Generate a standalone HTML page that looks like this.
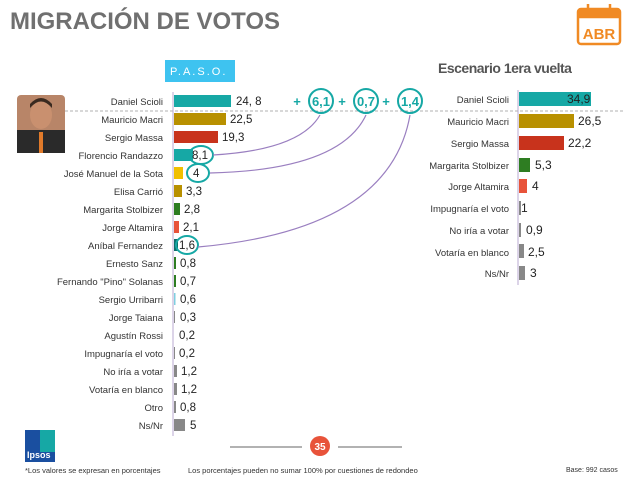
<!DOCTYPE html>
<html><head><meta charset="utf-8"><style>
body{margin:0;width:640px;height:479px;background:#fff;overflow:hidden;font-family:"Liberation Sans",sans-serif;}
</style></head><body>
<svg width="640" height="479" xmlns="http://www.w3.org/2000/svg" font-family="Liberation Sans, sans-serif">
<text x="10" y="29" font-size="24" font-weight="bold" fill="#707070" textLength="270" lengthAdjust="spacingAndGlyphs">MIGRACIÓN DE VOTOS</text>
<g fill="none" stroke="#f08a24" stroke-width="2.5">
<rect x="578" y="9" width="42" height="35" rx="3"/>
<line x1="578" y1="17" x2="620" y2="17"/>
<line x1="588" y1="4" x2="588" y2="12"/><line x1="610" y1="4" x2="610" y2="12"/>
</g>
<rect x="578" y="9" width="42" height="8" fill="#f08a24"/>
<text x="599" y="39" font-size="15" font-weight="bold" fill="#f08a24" text-anchor="middle">ABR</text>
<rect x="165" y="60" width="70" height="22" fill="#3ec3f0"/>
<text x="170" y="75" font-size="11" fill="#fff" letter-spacing="2">P.A.S.O.</text>
<rect x="17" y="95" width="48" height="58" rx="4" fill="#b88568"/>
<rect x="17" y="130" width="48" height="23" fill="#2a2a2a"/>
<ellipse cx="41" cy="115" rx="11" ry="14" fill="#c9906f"/>
<path d="M30 108 Q41 95 52 108 L52 104 Q41 92 30 104Z" fill="#3a2a20"/>
<rect x="39" y="132" width="4" height="21" fill="#e07a2a"/>
<line x1="65" y1="111" x2="625" y2="111" stroke="#999" stroke-dasharray="3,2" stroke-width="0.8"/>
<line x1="173" y1="92" x2="173" y2="436" stroke="#b8a8d0" stroke-width="1"/>
<g font-size="9.5" fill="#333" text-anchor="end">
<text x="163" y="105">Daniel Scioli</text>
<text x="163" y="123">Mauricio Macri</text>
<text x="163" y="141">Sergio Massa</text>
<text x="163" y="159">Florencio Randazzo</text>
<text x="163" y="177">José Manuel de la Sota</text>
<text x="163" y="195">Elisa Carrió</text>
<text x="163" y="213">Margarita Stolbizer</text>
<text x="163" y="231">Jorge Altamira</text>
<text x="163" y="249">Aníbal Fernandez</text>
<text x="163" y="267">Ernesto Sanz</text>
<text x="163" y="285">Fernando "Pino" Solanas</text>
<text x="163" y="303">Sergio Urribarri</text>
<text x="163" y="321">Jorge Taiana</text>
<text x="163" y="339">Agustín Rossi</text>
<text x="163" y="357">Impugnaría el voto</text>
<text x="163" y="375">No iría a votar</text>
<text x="163" y="393">Votaría en blanco</text>
<text x="163" y="411">Otro</text>
<text x="163" y="429">Ns/Nr</text>
</g>
<g>
<rect x="174" y="95" width="57" height="12" fill="#16a8a5"/>
<rect x="174" y="113" width="52" height="12" fill="#b89000"/>
<rect x="174" y="131" width="44" height="12" fill="#c8331c"/>
<rect x="174" y="149" width="19" height="12" fill="#16a8a5"/>
<rect x="174" y="167" width="9" height="12" fill="#f0c000"/>
<rect x="174" y="185" width="8" height="12" fill="#b89000"/>
<rect x="174" y="203" width="6" height="12" fill="#2e7d22"/>
<rect x="174" y="221" width="5" height="12" fill="#e8533a"/>
<rect x="174" y="239" width="4" height="12" fill="#0f6d6a"/>
<rect x="174" y="257" width="2" height="12" fill="#2e7d22"/>
<rect x="174" y="275" width="2" height="12" fill="#2e7d22"/>
<rect x="174" y="293" width="1.5" height="12" fill="#7fcfe0"/>
<rect x="174" y="311" width="1" height="12" fill="#888"/>
<rect x="174" y="347" width="1" height="12" fill="#888"/>
<rect x="174" y="365" width="3" height="12" fill="#888"/>
<rect x="174" y="383" width="3" height="12" fill="#888"/>
<rect x="174" y="401" width="2" height="12" fill="#888"/>
<rect x="174" y="419" width="11" height="12" fill="#888"/>
</g>
<g font-size="11.5" fill="#222">
<text x="236" y="105">24, 8</text>
<text x="230" y="123">22,5</text>
<text x="222" y="141">19,3</text>
<text x="192" y="159">8,1</text>
<text x="193" y="177">4</text>
<text x="186" y="195">3,3</text>
<text x="184" y="213">2,8</text>
<text x="183" y="231">2,1</text>
<text x="179" y="249">1,6</text>
<text x="180" y="267">0,8</text>
<text x="180" y="285">0,7</text>
<text x="180" y="303">0,6</text>
<text x="180" y="321">0,3</text>
<text x="179" y="339">0,2</text>
<text x="179" y="357">0,2</text>
<text x="181" y="375">1,2</text>
<text x="181" y="393">1,2</text>
<text x="180" y="411">0,8</text>
<text x="190" y="429">5</text>
</g>
<g fill="none" stroke="#16a8a5" stroke-width="2">
<ellipse cx="201" cy="155" rx="12" ry="9"/>
<ellipse cx="198" cy="173" rx="11" ry="9"/>
<ellipse cx="187" cy="245" rx="11" ry="9"/>
<circle cx="321" cy="101" r="12"/><circle cx="366" cy="101" r="12"/><circle cx="410" cy="101" r="12"/>
</g>
<g font-size="13" font-weight="bold" fill="#16a8a5" text-anchor="middle">
<text x="297" y="106">+</text><text x="321" y="106">6,1</text>
<text x="342" y="106">+</text><text x="366" y="106">0,7</text>
<text x="386" y="106">+</text><text x="410" y="106">1,4</text>
</g>
<g fill="none" stroke="#9a7fc0" stroke-width="1.2">
<path d="M213 155 Q300 150 320 115"/>
<path d="M210 173 Q340 170 366 115"/>
<path d="M198 247 Q390 230 410 115"/>
</g>
<text x="438" y="73" font-size="14" fill="#555" font-weight="bold" letter-spacing="-0.5">Escenario 1era vuelta</text>
<line x1="518" y1="90" x2="518" y2="285" stroke="#b8a8d0"/>
<g font-size="9.5" fill="#333" text-anchor="end">
<text x="509" y="103">Daniel Scioli</text>
<text x="509" y="125">Mauricio Macri</text>
<text x="509" y="147">Sergio Massa</text>
<text x="509" y="169">Margarita Stolbizer</text>
<text x="509" y="190">Jorge Altamira</text>
<text x="509" y="212">Impugnaría el voto</text>
<text x="509" y="234">No iría a votar</text>
<text x="509" y="256">Votaría en blanco</text>
<text x="509" y="277">Ns/Nr</text>
</g>
<rect x="519" y="92" width="72" height="14" fill="#16a8a5"/>
<rect x="519" y="114" width="55" height="14" fill="#b89000"/>
<rect x="519" y="136" width="45" height="14" fill="#c8331c"/>
<rect x="519" y="158" width="11" height="14" fill="#2e7d22"/>
<rect x="519" y="179" width="8" height="14" fill="#e8533a"/>
<rect x="519" y="201" width="2" height="14" fill="#888"/>
<rect x="519" y="223" width="2" height="14" fill="#888"/>
<rect x="519" y="244" width="5" height="14" fill="#888"/>
<rect x="519" y="266" width="6" height="14" fill="#888"/>
<g font-size="12" fill="#222">
<text x="567" y="103">34,9</text>
<text x="578" y="125">26,5</text>
<text x="568" y="147">22,2</text>
<text x="535" y="169">5,3</text>
<text x="532" y="190">4</text>
<text x="521" y="212">1</text>
<text x="526" y="234">0,9</text>
<text x="528" y="256">2,5</text>
<text x="530" y="277">3</text>
</g>
<rect x="25" y="430" width="30" height="32" fill="#1a4fa0"/>
<rect x="40" y="430" width="15" height="22" fill="#16a8a5"/>
<text x="27" y="458" font-size="9" font-weight="bold" fill="#fff">Ipsos</text>
<line x1="230" y1="447" x2="302" y2="447" stroke="#666"/>
<line x1="338" y1="447" x2="402" y2="447" stroke="#666"/>
<circle cx="320" cy="446" r="10" fill="#e8533a"/>
<text x="320" y="450" font-size="10" font-weight="bold" fill="#fff" text-anchor="middle">35</text>
<text x="25" y="473" font-size="7.5" fill="#333">*Los valores se expresan en porcentajes</text>
<text x="188" y="473" font-size="7.5" fill="#333">Los porcentajes pueden no sumar 100% por cuestiones de redondeo</text>
<text x="566" y="472" font-size="7" fill="#333">Base: 992 casos</text>
</svg>
</body></html>
